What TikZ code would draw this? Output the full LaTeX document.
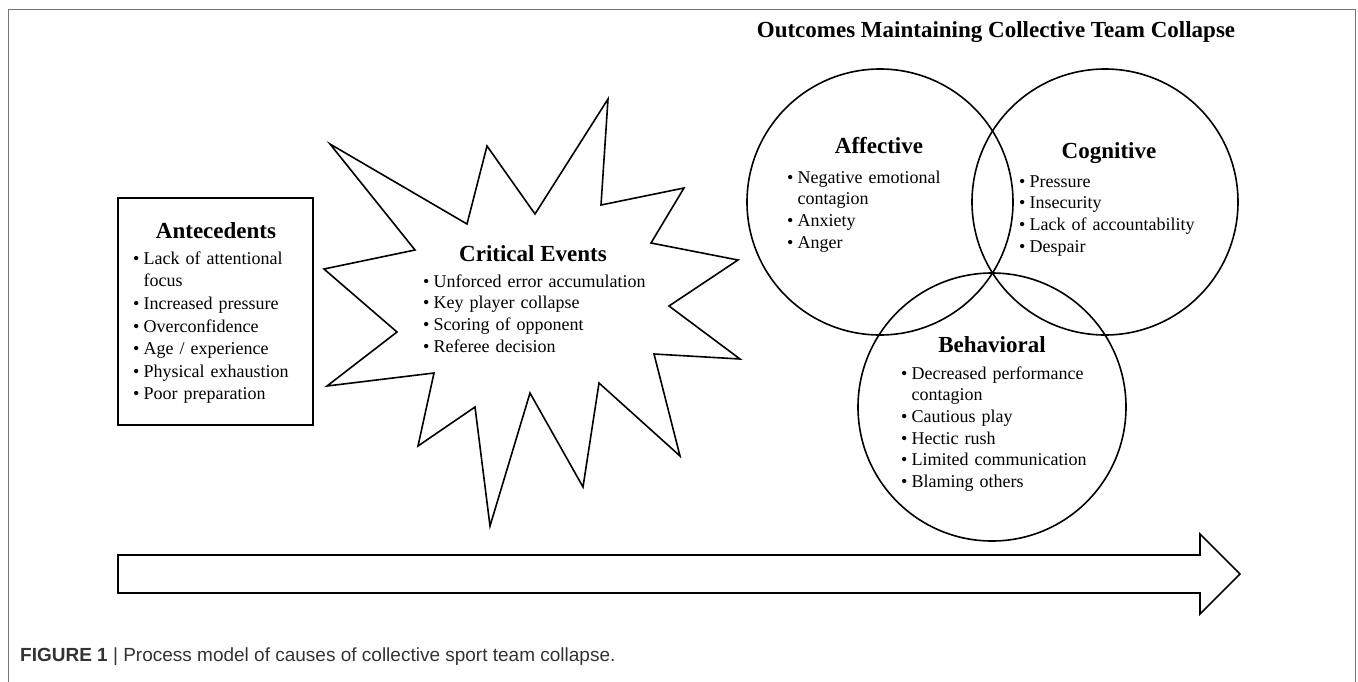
\documentclass[tikz,border=0pt]{standalone}
\usepackage{fontspec}
\setmainfont{Liberation Serif}
\newfontfamily\capfont{Liberation Sans}
\definecolor{framegray}{HTML}{777777}
\definecolor{captext}{HTML}{333333}
\newcommand\bl{\strut\makebox[10.5pt][l]{\textbullet}}
\newcommand\ct{\strut\hspace*{10.5pt}}
\tikzset{
  shapeline/.style={line width=1.6pt, draw=black, line join=miter},
  circ/.style={circle, draw=black, line width=1.6pt, inner sep=0pt, minimum size=#1},
  ttl/.style={font=\fontsize{23}{27}\selectfont\bfseries, inner sep=0pt, anchor=base},
  lst/.style={font=\fontsize{18}{21.7}\selectfont, inner sep=0pt, anchor=north west, align=left, text width=#1},
  framel/.style={draw=framegray, line width=1pt},
}
\begin{document}
\begin{tikzpicture}[x=1pt, y=-1pt]
\useasboundingbox (0,0) rectangle (1358,681);
% outer frame
\draw[framel] (8,684) -- (8,9) -- (1355,9) -- (1355,684);

% Antecedents box
\node[draw=black, line width=1.6pt, inner sep=0pt, minimum width=195pt, minimum height=227pt] (antbox) at (215.5,311.5) {};
\node[ttl] (antttl) at (216,238) {Antecedents};
\node[lst=185pt, font=\fontsize{18}{22.6}\selectfont] (antlist) at (133,248.2) {\bl Lack of attentional\\ \ct focus\\ \bl Increased pressure\\ \bl Overconfidence\\ \bl Age / experience\\ \bl Physical exhaustion\\ \bl Poor preparation};

% Critical events star
\draw[shapeline] (330,144) -- (467,224) -- (487,146) -- (535,214) -- (608,99) -- (601,205)
  -- (684,188) -- (651,243) -- (738,260) -- (669,306) -- (740,359) -- (654,354)
  -- (680,456) -- (599,383) -- (583,487) -- (530,393) -- (490,526) -- (475,407)
  -- (418,446) -- (434,373) -- (327,386) -- (397,332) -- (324,269) -- (415,250) -- cycle;
\node[ttl] (cettl) at (533,261) {Critical Events};
\node[lst=240pt] (celist) at (423,271.8) {\bl Unforced error accumulation\\ \bl Key player collapse\\ \bl Scoring of opponent\\ \bl Referee decision};

% Outcomes
\node[ttl] (outttl) at (996,37) {Outcomes Maintaining Collective Team Collapse};
\node[circ=266pt] (aff) at (880,202) {};
\node[circ=266pt] (cog) at (1105,202) {};
\node[circ=268pt] (beh) at (992,407) {};

\node[ttl] (affttl) at (879,153) {Affective};
\node[lst=200pt] (afflist) at (787,167.8) {\bl Negative emotional\\ \ct contagion\\ \bl Anxiety\\ \bl Anger};

\node[ttl] (cogttl) at (1109,158) {Cognitive};
\node[lst=200pt] (coglist) at (1019,171.8) {\bl Pressure\\ \bl Insecurity\\ \bl Lack of accountability\\ \bl Despair};

\node[ttl] (behttl) at (992,352) {Behavioral};
\node[lst=220pt] (behlist) at (901,363.8) {\bl Decreased performance\\ \ct contagion\\ \bl Cautious play\\ \bl Hectic rush\\ \bl Limited communication\\ \bl Blaming others};

% Time arrow
\draw[shapeline] (118,555) -- (1200,555) -- (1200,534) -- (1240,574) -- (1200,614) -- (1200,593) -- (118,593) -- cycle;

% Caption
\node[inner sep=0pt, anchor=base west, text=captext, font=\capfont\fontsize{19}{22}\selectfont] (cap) at (20,661) {\textbf{FIGURE 1} | Process model of causes of collective sport team collapse.};
\end{tikzpicture}
\end{document}
